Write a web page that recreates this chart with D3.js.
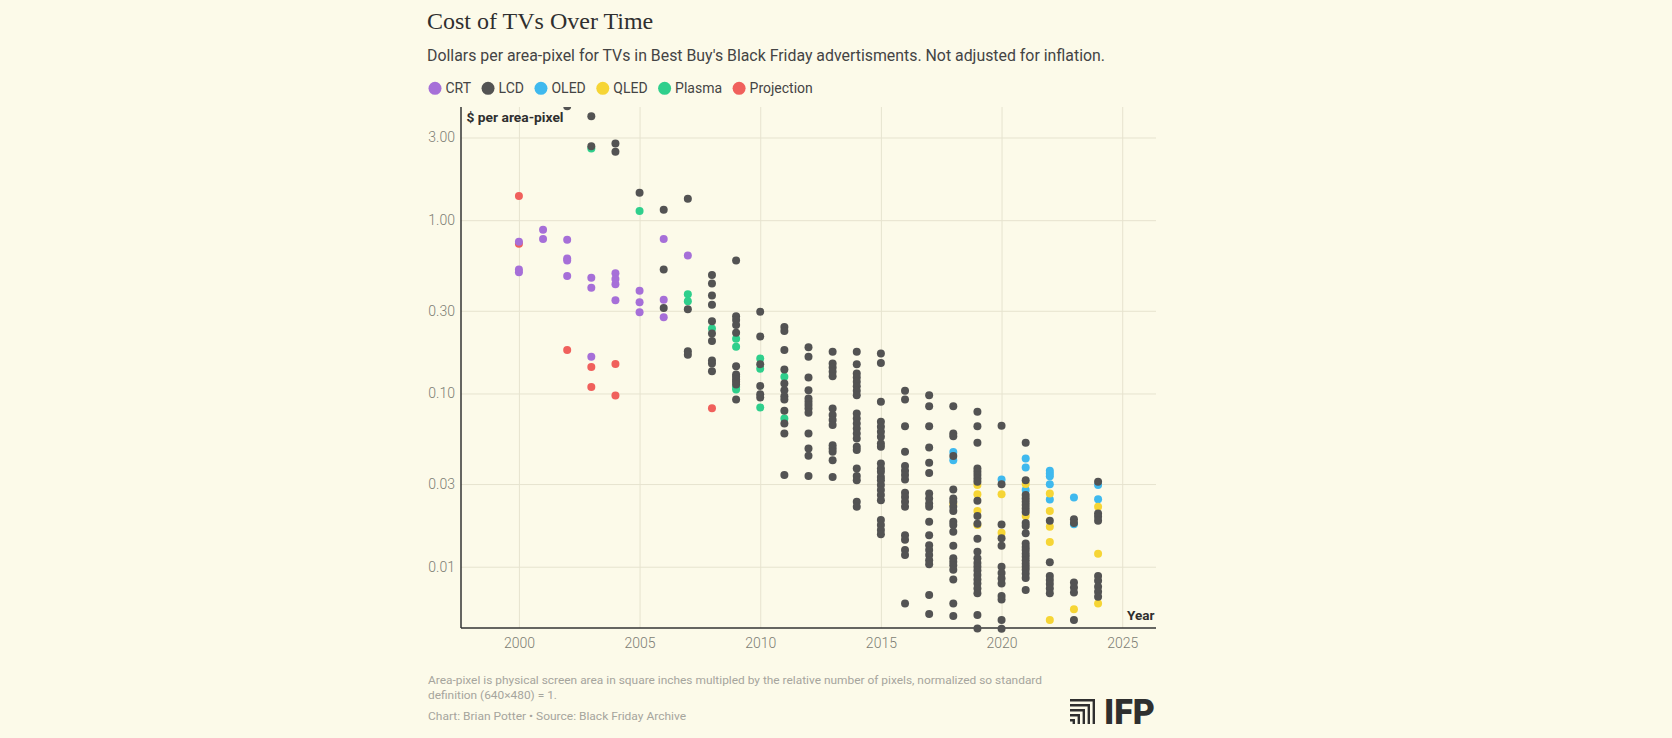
<!DOCTYPE html>
<html><head><meta charset="utf-8">
<script src="https://cdn.jsdelivr.net/npm/d3@7"></script>
<style>
html,body{margin:0;padding:0;background:#fcfae9;}
svg{display:block;}
</style></head>
<body>
<svg id="chart" width="1672" height="738"></svg>
<script>
// ---------- data ----------
const title = "Cost of TVs Over Time";
const subtitle = "Dollars per area-pixel for TVs in Best Buy's Black Friday advertisments. Not adjusted for inflation.";
const typeNames = ["CRT","LCD","OLED","QLED","Plasma","Projection"];
const typeColors = ["#a66fd8","#535353","#3fb9ee","#f6d535","#2fcf8c","#f0605c"];
const xTicks = [2000,2005,2010,2015,2020,2025];
const yTicks = [0.01,0.03,0.10,0.30,1.00,3.00];
const yLabel = "$ per area-pixel";
const xLabel = "Year";
const note1 = "Area-pixel is physical screen area in square inches multipled by the relative number of pixels, normalized so standard";
const note2 = "definition (640×480) = 1.";
const credit = "Chart: Brian Potter • Source: Black Friday Archive";

const crt = [[2000,0.75],[2000,0.52],[2000,0.50],[2001,0.88],[2001,0.78],
[2002,0.77],[2002,0.60],[2002,0.585],[2002,0.477],
[2003,0.465],[2003,0.407],[2003,0.163],
[2004,0.494],[2004,0.457],[2004,0.427],[2004,0.345],
[2005,0.391],[2005,0.336],[2005,0.294],
[2006,0.78],[2006,0.347],[2006,0.275],[2007,0.625]];

const projection = [[2000,1.38],[2000,0.73],[2002,0.178],[2003,0.142],[2003,0.109],
[2004,0.148],[2004,0.0974],[2008,0.0822]];

const plasma = [[2003,2.59],[2005,1.13],[2007,0.374],[2007,0.340],[2008,0.237],
[2009,0.207],[2009,0.186],[2009,0.109],[2009,0.1055],
[2010,0.159],[2010,0.139],[2010,0.083],[2011,0.1247],[2011,0.0718]];

const oled = [[2018,0.046],[2018,0.0412],[2020,0.0319],[2021,0.0421],[2021,0.0374],[2021,0.0277],
[2022,0.0358],[2022,0.0345],[2022,0.0333],[2022,0.0299],[2022,0.0244],
[2023,0.0251],[2023,0.0176],[2024,0.0296],[2024,0.0245]];

const qled = [[2018,0.0230],[2019,0.0296],[2019,0.0262],[2019,0.0210],[2019,0.0174],
[2020,0.0262],[2020,0.0157],[2021,0.0300],[2021,0.0196],
[2022,0.0265],[2022,0.0210],[2022,0.0170],[2022,0.0139],[2022,0.00492],
[2023,0.00568],[2024,0.0222],[2024,0.0119],[2024,0.00614]];

const lcd = [[2002,4.55],[2003,3.98],[2003,2.67],[2004,2.77],[2004,2.48],[2005,1.44],
[2006,1.15],[2006,0.519],[2006,0.311],
[2007,1.33],[2007,0.306],[2007,0.175],[2007,0.167],
[2008,0.482],[2008,0.431],[2008,0.367],[2008,0.325],[2008,0.261],[2008,0.222],[2008,0.201],[2008,0.155],[2008,0.149],[2008,0.1345],
[2009,0.585],[2009,0.279],[2009,0.265],[2009,0.248],[2009,0.224],[2009,0.1437],[2009,0.1288],[2009,0.1247],[2009,0.1205],[2009,0.1167],[2009,0.1127],[2009,0.0923],
[2010,0.296],[2010,0.213],[2010,0.1476],[2010,0.1106],[2010,0.099],[2010,0.0948],
[2011,0.242],[2011,0.229],[2011,0.178],[2011,0.1375],[2011,0.1142],[2011,0.1045],[2011,0.0965],[2011,0.0923],[2011,0.0794],[2011,0.0671],[2011,0.0588],[2011,0.0338],
[2012,0.185],[2012,0.163],[2012,0.1236],[2012,0.1045],[2012,0.0935],[2012,0.0895],[2012,0.0857],[2012,0.0819],[2012,0.0773],[2012,0.0588],[2012,0.0481],[2012,0.0437],[2012,0.0334],
[2013,0.174],[2013,0.149],[2013,0.1413],[2013,0.1334],[2013,0.1259],[2013,0.0819],[2013,0.0750],[2013,0.0702],[2013,0.0657],[2013,0.0503],[2013,0.0481],[2013,0.0461],[2013,0.0412],[2013,0.0330],
[2014,0.174],[2014,0.1476],[2014,0.1303],[2014,0.1236],[2014,0.1167],[2014,0.1102],[2014,0.1035],[2014,0.0977],[2014,0.0766],[2014,0.0718],[2014,0.0671],[2014,0.0628],[2014,0.0588],[2014,0.0550],[2014,0.0492],[2014,0.0471],[2014,0.0369],[2014,0.0334],[2014,0.0316],[2014,0.0237],[2014,0.0222],
[2015,0.170],[2015,0.150],[2015,0.0895],[2015,0.0686],[2015,0.0642],[2015,0.0601],[2015,0.0562],[2015,0.0514],[2015,0.0492],[2015,0.0394],[2015,0.0369],[2015,0.0353],[2015,0.0330],[2015,0.0316],[2015,0.0296],[2015,0.0277],[2015,0.0259],[2015,0.0242],[2015,0.0186],[2015,0.0174],[2015,0.0163],[2015,0.0154],
[2016,0.1035],[2016,0.0923],[2016,0.0647],[2016,0.0461],[2016,0.0381],[2016,0.0358],[2016,0.0338],[2016,0.0319],[2016,0.0267],[2016,0.0253],[2016,0.0237],[2016,0.0222],[2016,0.0152],[2016,0.0143],[2016,0.0125],[2016,0.0117],[2016,0.00614],
[2017,0.0977],[2017,0.0845],[2017,0.0647],[2017,0.0488],[2017,0.0398],[2017,0.0348],[2017,0.0265],[2017,0.0248],[2017,0.0232],[2017,0.0222],[2017,0.0182],[2017,0.0152],[2017,0.0133],[2017,0.0125],[2017,0.0117],[2017,0.0109],[2017,0.01035],[2017,0.00686],[2017,0.00533],
[2018,0.0845],[2018,0.0588],[2018,0.0567],[2018,0.0436],[2018,0.0279],[2018,0.0248],[2018,0.0237],[2018,0.0222],[2018,0.021],[2018,0.0182],[2018,0.0174],[2018,0.0159],[2018,0.0132],[2018,0.0112],[2018,0.0107],[2018,0.0102],[2018,0.0096],[2018,0.00845],[2018,0.00614],[2018,0.00519],
[2019,0.0783],[2019,0.0647],[2019,0.0519],[2019,0.0369],[2019,0.0353],[2019,0.0338],[2019,0.0323],[2019,0.0309],[2019,0.0240],[2019,0.0196],[2019,0.0177],[2019,0.0145],[2019,0.0122],[2019,0.0112],[2019,0.0105],[2019,0.0100],[2019,0.0095],[2019,0.00895],[2019,0.00845],[2019,0.0080],[2019,0.0075],[2019,0.00702],[2019,0.00526],[2019,0.0044],
[2020,0.065],[2020,0.0299],[2020,0.0175],[2020,0.0146],[2020,0.0132],[2020,0.0100],[2020,0.0092],[2020,0.00855],[2020,0.0080],[2020,0.00678],[2020,0.00648],[2020,0.00492],[2020,0.00438],
[2021,0.0519],[2021,0.0316],[2021,0.0259],[2021,0.0248],[2021,0.0237],[2021,0.0227],[2021,0.0217],[2021,0.0207],[2021,0.0179],[2021,0.0172],[2021,0.0156],[2021,0.0136],[2021,0.0130],[2021,0.0125],[2021,0.0119],[2021,0.0114],[2021,0.0109],[2021,0.0104],[2021,0.0100],[2021,0.0096],[2021,0.0091],[2021,0.0086],[2021,0.00733],
[2022,0.0184],[2022,0.0106],[2022,0.00883],[2022,0.00838],[2022,0.00794],[2022,0.0075],[2022,0.00702],
[2023,0.0188],[2023,0.0179],[2023,0.0081],[2023,0.0076],[2023,0.0071],[2023,0.00492],
[2024,0.0309],[2024,0.0203],[2024,0.0194],[2024,0.0184],[2024,0.00883],[2024,0.0083],[2024,0.00766],[2024,0.00718],[2024,0.00671]];

// drawing order (LCD last, on top)
const seriesOrder = [["Projection",projection],["CRT",crt],["OLED",oled],["QLED",qled],["Plasma",plasma],["LCD",lcd]];

// ---------- layout ----------
const svg = d3.select("#chart");
const W = 1672, H = 738;
const plot = {left:461, right:1156, top:107, bottom:628};
const sans = "Roboto, 'Open Sans', sans-serif";
const color = d3.scaleOrdinal().domain(typeNames).range(typeColors);

svg.append("rect").attr("width",W).attr("height",H).attr("fill","#fcfae9");

const x = d3.scaleLinear().domain([1997.6, 2026.4]).range([plot.left, plot.right]);
const y = d3.scaleLog().domain([0.00443, 4.5]).range([plot.bottom, plot.top]);

// title / subtitle
svg.append("text").attr("x",427).attr("y",28.5)
  .attr("font-family","'Liberation Serif', 'DejaVu Serif', serif").attr("font-size",24)
  .attr("fill","#2f2f2f").text(title);
svg.append("text").attr("x",427).attr("y",61)
  .attr("font-family",sans).attr("font-size",16).attr("fill","#444")
  .attr("textLength",678).attr("lengthAdjust","spacingAndGlyphs").text(subtitle);

// legend
const lg = svg.append("g");
let lx = 428.5;
typeNames.forEach(name => {
  const g = lg.append("g");
  g.append("circle").attr("cx",lx+6.5).attr("cy",88.3).attr("r",6.5).attr("fill",color(name));
  const t = g.append("text").attr("x",lx+17).attr("y",93).attr("font-family",sans)
    .attr("font-size",14).attr("fill","#444").text(name);
  const w = t.node().getComputedTextLength();
  lx = lx + 17 + w + 10.5;
});

// grid + axes
const yAxis = d3.axisLeft(y).tickValues(yTicks).tickFormat(d3.format(".2f"))
  .tickSize(-(plot.right-plot.left)).tickPadding(6);
const gy = svg.append("g").attr("transform",`translate(${plot.left},0)`).call(yAxis);
gy.select(".domain").remove();
gy.selectAll(".tick line").attr("stroke","#e6e3cf").attr("stroke-width",1);
gy.selectAll(".tick text").attr("font-family",sans).attr("font-weight",300)
  .attr("font-size",14).attr("fill","#7d7d74");

const xAxis = d3.axisBottom(x).tickValues(xTicks).tickFormat(d3.format("d"))
  .tickSize(-(plot.bottom-plot.top)).tickPadding(10);
const gx = svg.append("g").attr("transform",`translate(0,${plot.bottom})`).call(xAxis);
gx.select(".domain").remove();
gx.selectAll(".tick line").attr("stroke","#e6e3cf").attr("stroke-width",1);
gx.selectAll(".tick text").attr("font-family",sans).attr("font-weight",300)
  .attr("font-size",14).attr("fill","#7d7d74");

// axis lines
svg.append("line").attr("x1",plot.left).attr("x2",plot.left).attr("y1",plot.top).attr("y2",plot.bottom)
  .attr("stroke","#333").attr("stroke-width",1.5);
svg.append("line").attr("x1",plot.left).attr("x2",plot.right).attr("y1",plot.bottom).attr("y2",plot.bottom)
  .attr("stroke","#333").attr("stroke-width",1.5);

// points
svg.append("clipPath").attr("id","clip").append("rect")
  .attr("x",0).attr("y",plot.top).attr("width",W).attr("height",H-plot.top);
const pts = svg.append("g").attr("clip-path","url(#clip)");
seriesOrder.forEach(([name, arr]) => {
  pts.selectAll(null).data(arr).enter().append("circle")
    .attr("cx",d => x(d[0])).attr("cy",d => y(d[1])).attr("r",4)
    .attr("fill",color(name));
});

// axis titles
svg.append("text").attr("x",466.5).attr("y",121.5).attr("font-family",sans)
  .attr("font-weight",700).attr("font-size",13.5).attr("fill","#2f2f2f")
  .attr("textLength",97).attr("lengthAdjust","spacingAndGlyphs").text(yLabel);
svg.append("text").attr("x",1154.5).attr("y",620).attr("text-anchor","end").attr("font-family",sans)
  .attr("font-weight",700).attr("font-size",13.5).attr("fill","#2f2f2f").text(xLabel);

// footer
svg.append("text").attr("x",428).attr("y",684.3).attr("font-family",sans).attr("font-size",11.5)
  .attr("fill","#a6a59d").attr("textLength",614).attr("lengthAdjust","spacingAndGlyphs").text(note1);
svg.append("text").attr("x",428).attr("y",699.3).attr("font-family",sans).attr("font-size",11.5)
  .attr("fill","#a6a59d").attr("textLength",129).attr("lengthAdjust","spacingAndGlyphs").text(note2);
svg.append("text").attr("x",428).attr("y",720).attr("font-family",sans).attr("font-size",11.5)
  .attr("fill","#a6a59d").attr("textLength",258).attr("lengthAdjust","spacingAndGlyphs").text(credit);

// IFP logo
const logo = svg.append("g");
const lx0 = 1070, lx1 = 1095, ly0 = 699, ly1 = 724;
d3.range(5).forEach(i => {
  logo.append("path")
    .attr("d",`M${lx0},${ly0+i*5+1.2}H${lx1-i*5-1.2}V${ly1}`)
    .attr("fill","none").attr("stroke","#2f2f2f").attr("stroke-width",2.4);
});
logo.append("text").attr("x",1104).attr("y",724).attr("font-family","Roboto, 'DejaVu Sans', sans-serif")
  .attr("font-weight",900).attr("font-size",35).attr("fill","#2f2f2f")
  .attr("textLength",51).attr("lengthAdjust","spacingAndGlyphs").text("IFP");
</script>
</body></html>
